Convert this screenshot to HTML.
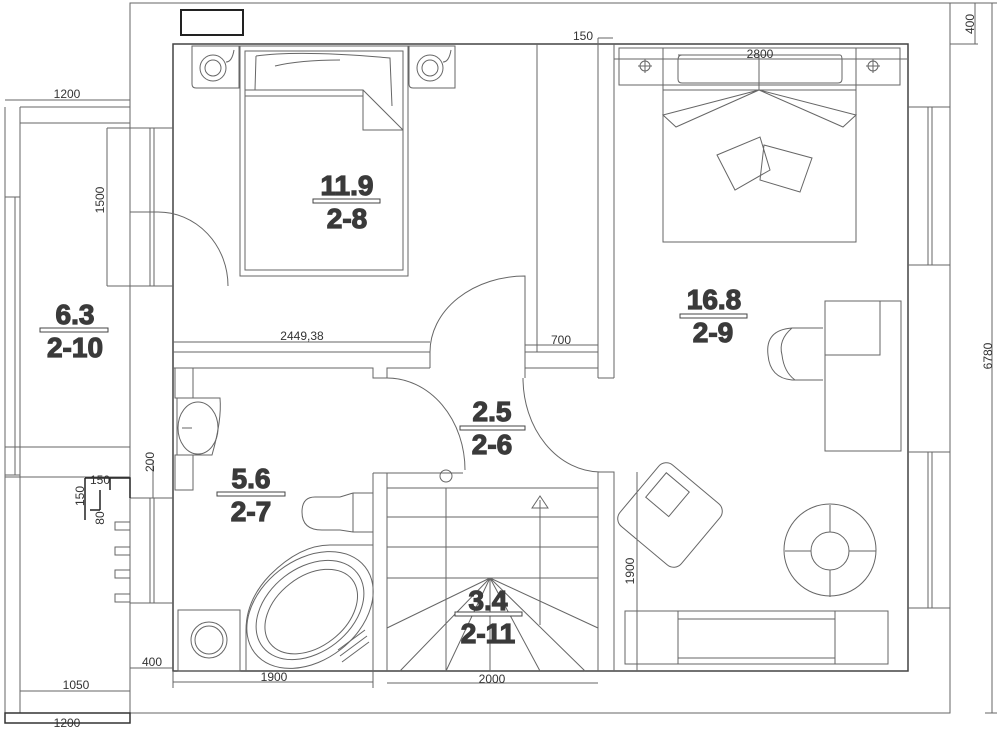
<!DOCTYPE html>
<html><head><meta charset="utf-8"><style>
html,body{margin:0;padding:0;background:#fff;}
svg{display:block}
.t{font-family:"Liberation Sans",sans-serif;font-weight:bold;fill:#3a3a3a;stroke:#3a3a3a;stroke-width:1.2;font-size:28px;text-anchor:middle}
.d{font-family:"Liberation Sans",sans-serif;fill:#333;font-size:12px;text-anchor:middle}
</style></head><body>
<svg width="1000" height="733" viewBox="0 0 1000 733" xmlns="http://www.w3.org/2000/svg">
<g fill="none" stroke="#666" stroke-width="1">
<path d="M130 3 H950 V713 H130 Z"/>
<path d="M173 44 H908 V671 H173 Z" stroke="#444" stroke-width="1.5"/>
<path d="M992 3 V713 M950 3 H997 M950 44 H978 M975 3 V44 M985 713 H997"/>
<path d="M5 100 H130 M5 107 V723 M20 107 H130 M20 107 V713 M20 123 H130 M5 197 H20 M15 197 V475 M5 475 H20 M5 447 H130 M5 477 H130 M20 691 H130"/>
<rect x="5" y="713" width="125" height="10" stroke="#333" stroke-width="1.5"/>
<rect x="181" y="10" width="62" height="25" stroke="#222" stroke-width="2"/>
<path d="M107 128 H173 M107 286 H173 M107 128 V286 M150 128 V286 M154 128 V286 M130 212 H158"/>
<path d="M158 212 A70 74 0 0 1 228 286"/>
<path d="M192 46 H239 V88 H196 Q192 88 192 84 Z M409 46 H455 V88 H413 Q409 88 409 84 Z"/>
<circle cx="213" cy="68" r="13"/><circle cx="213" cy="68" r="8"/>
<circle cx="430" cy="68" r="13"/><circle cx="430" cy="68" r="8"/>
<path d="M234 50 Q232 62 226 62 M451 50 Q449 62 443 62"/>
<rect x="240" y="46" width="168" height="230"/>
<rect x="245" y="51" width="158" height="219"/>
<path d="M245 90 H363 V130 H403 M363 90 L403 130 M245 96 H363"/>
<path d="M256 56 Q300 50 390 58 L392 106 M256 56 L255 90 M275 66 Q300 60 340 60"/>
<path d="M173 342 H430 M173 352 H430 M173 368 H373 V378 H387 V368 H430 M430 368 V352"/>
<path d="M430 352 A95 76 0 0 1 525 276 V352" />
<path d="M537 44 V352 M598 44 V378 M614 44 V378 M525 345 H598 M525 352 H598 M525 368 H598 M598 378 H614 M525 352 V378"/>
<path d="M598 38 H613 M598 38 V44"/>
<path d="M387 378 A78 92 0 0 1 465 470 M373 473 H463"/>
<circle cx="446" cy="476" r="6"/>
<path d="M523 378 A78 94 0 0 0 600 472 M598 472 H614 V671 M598 472 V671"/>
<path d="M373 473 V671 M387 473 V671 M387 488 H598 M387 517 H598 M387 547 H598 M387 578 H598 M446 488 V671 M540 500 V625 M532 508 L540 496 L548 508 Z"/>
<path d="M490 578 L387 628 M490 578 L400 671 M490 578 L446 671 M490 578 L490 671 M490 578 L540 671 M490 578 L585 671 M490 578 L598 628"/>
<rect x="175" y="368" width="18" height="30"/>
<path d="M177 398 H220 Q222 420 212 455 H177 Z"/>
<ellipse cx="198" cy="428" rx="20" ry="26"/>
<path d="M182 428 H192"/>
<rect x="175" y="455" width="18" height="35"/>
<path d="M353 493 V532 H373 M353 493 H373 M353 493 L340 497 M340 497 H315 Q302 497 302 512 Q302 530 322 530 H340 L353 532"/>
<rect x="178" y="610" width="62" height="61"/>
<circle cx="209" cy="640" r="18"/><circle cx="209" cy="640" r="14"/>
<path d="M246 671 V630 Q246 600 270 575 Q300 545 330 545 H373"/>
<g transform="rotate(-38 310 610)"><ellipse cx="310" cy="610" rx="70" ry="50"/><ellipse cx="310" cy="610" rx="60" ry="42"/><ellipse cx="310" cy="612" rx="52" ry="35"/></g>
<path d="M338 650 L365 630 M340 656 L367 636 M342 662 L369 642"/>
<path d="M130 498 H173 M130 603 H173 M150 498 V603 M154 498 V603"/>
<path d="M85 478 H130 V498 M85 478 V520 M85 478 H130 M110 478 V490 M100 490 V510 M90 510 H100" stroke="#222" stroke-width="1.5"/>
<rect x="115" y="522" width="15" height="8"/><rect x="115" y="547" width="15" height="8"/><rect x="115" y="570" width="15" height="8"/><rect x="115" y="594" width="15" height="8"/>
<path d="M153 460 V498"/>
<path d="M130 668 H173 M173 682 H373 M387 683 H598 M637 472 V671 M173 671 V688 M373 671 V688"/>
<path d="M614 59 H907"/>
<rect x="619" y="48" width="281" height="37"/>
<rect x="663" y="48" width="193" height="194"/>
<path d="M663 90 H856 M678 55 H840 Q842 55 842 60 V79 Q842 83 838 83 H682 Q678 83 678 79 V60 Q678 55 682 55 M759 55 V90"/>
<circle cx="645" cy="66" r="5"/><circle cx="873" cy="66" r="5"/><path d="M638 66 H652 M645 59 V73 M866 66 H880 M873 59 V73"/>
<path d="M759 90 L663 115 L676 127 Z M759 90 L856 115 L843 127 Z"/>
<path d="M717 155 L760 137 L770 170 L735 190 Z M764 145 L812 158 L800 192 L760 180 Z"/>
<rect x="825" y="301" width="76" height="150"/>
<path d="M880 301 V355 H825"/>
<path d="M823 328 H792 Q765 330 768 355 Q770 378 792 380 H823 M792 328 Q778 340 782 355 Q784 372 795 380"/>
<g transform="rotate(40 670 515)"><rect x="630" y="475" width="80" height="80" rx="10"/><rect x="640" y="485" width="30" height="32"/></g>
<circle cx="830" cy="550" r="46"/><circle cx="830" cy="551" r="19"/>
<path d="M830 505 V532 M830 570 V597 M785 551 H811 M849 551 H876"/>
<rect x="625" y="611" width="263" height="53"/>
<path d="M678 611 V664 M835 611 V664 M678 619 H835 M678 658 H835"/>
<path d="M908 107 H950 M908 265 H950 M928 107 V265 M932 107 V265 M908 452 H950 M908 608 H950 M928 452 V608 M932 452 V608"/>
</g>
<g fill="#fff" stroke="#444" stroke-width="1">
<rect x="313" y="199" width="67" height="4"/>
<rect x="40" y="328" width="68" height="4"/>
<rect x="680" y="314" width="67" height="4"/>
<rect x="460" y="426" width="65" height="4"/>
<rect x="217" y="492" width="68" height="4"/>
<rect x="455" y="612" width="67" height="4"/>
</g>
<text class="t" x="347" y="195">11.9</text><text class="t" x="347" y="228">2-8</text>
<text class="t" x="75" y="324">6.3</text><text class="t" x="75" y="357">2-10</text>
<text class="t" x="714" y="309">16.8</text><text class="t" x="713" y="342">2-9</text>
<text class="t" x="492" y="421">2.5</text><text class="t" x="492" y="454">2-6</text>
<text class="t" x="251" y="488">5.6</text><text class="t" x="251" y="521">2-7</text>
<text class="t" x="488" y="610">3.4</text><text class="t" x="488" y="643">2-11</text>
<g class="d">
<text x="67" y="98">1200</text>
<text x="67" y="727">1200</text>
<text x="76" y="689">1050</text>
<text x="152" y="666">400</text>
<text x="274" y="681">1900</text>
<text x="492" y="683">2000</text>
<text x="302" y="340">2449,38</text>
<text x="561" y="344">700</text>
<text x="583" y="40">150</text>
<text x="760" y="58">2800</text>
<text x="111" y="207" transform="rotate(-90 104 207)">1500</text>
<text x="634" y="571" transform="rotate(-90 634 571)">1900</text>
<text x="154" y="462" transform="rotate(-90 154 462)">200</text>
<text x="974" y="24" transform="rotate(-90 974 24)">400</text>
<text x="992" y="356" transform="rotate(-90 992 356)">6780</text>
<text x="100" y="484">150</text>
<text x="84" y="496" transform="rotate(-90 84 496)">150</text>
<text x="104" y="518" transform="rotate(-90 104 518)">80</text>
</g>
</svg>
</body></html>
